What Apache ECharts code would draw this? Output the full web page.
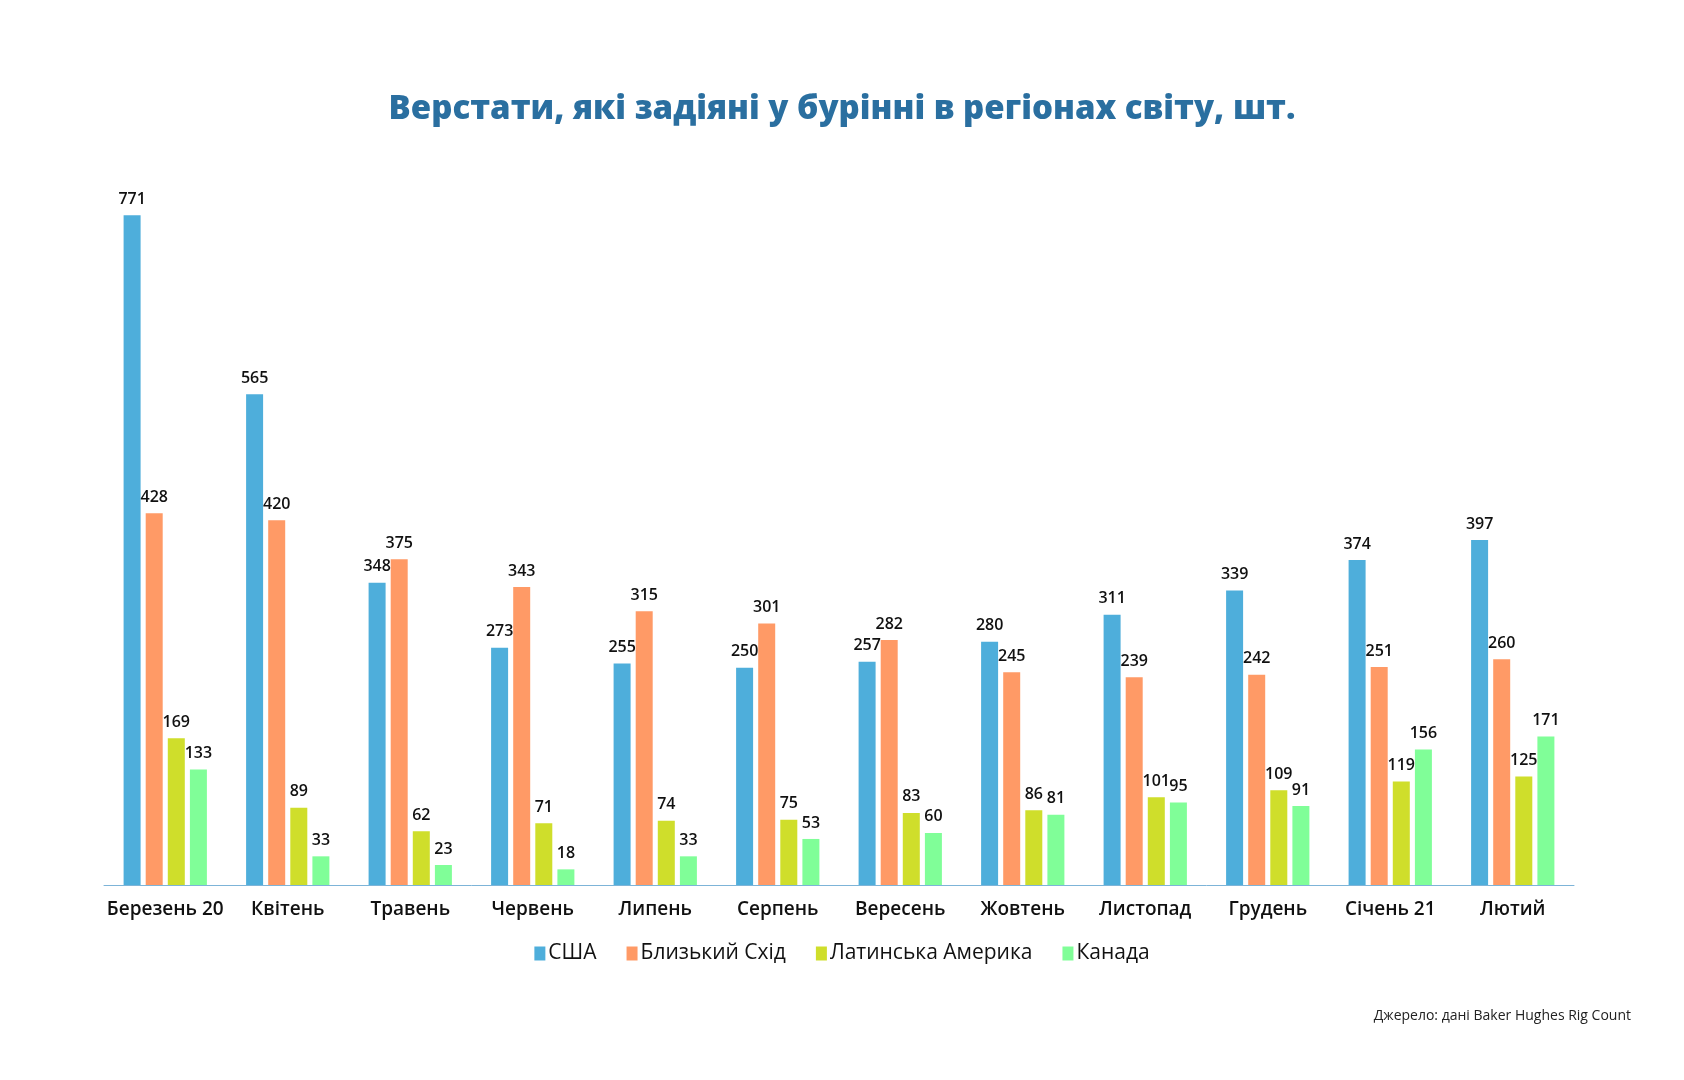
<!DOCTYPE html>
<html>
<head>
<meta charset="utf-8">
<script src="https://cdn.jsdelivr.net/npm/echarts@6/dist/echarts.min.js"></script>
<style>
  html, body { margin: 0; padding: 0; background: #fff; }
  #chart { width: 1684px; height: 1080px; }
</style>
</head>
<body>
<div id="chart"></div>
<script>
// місяці
const months = ['Березень 20', 'Квітень', 'Травень', 'Червень', 'Липень', 'Серпень',
  'Вересень', 'Жовтень', 'Листопад', 'Грудень', 'Січень 21', 'Лютий']

const seriesNames = ['США', 'Близький Схід', 'Латинська Америка', 'Канада']
const usa = [771, 565, 348, 273, 255, 250, 257, 280, 311, 339, 374, 397]
const middleEast = [428, 420, 375, 343, 315, 301, 282, 245, 239, 242, 251, 260]
const latinAmerica = [169, 89, 62, 71, 74, 75, 83, 86, 101, 109, 119, 125]
const canada = [133, 33, 23, 18, 33, 53, 60, 81, 95, 91, 156, 171]

const colors = ['#4eaedb', '#ff9a66', '#cfde2b', '#80fe98']

const makeSeries = (name, data, color) => ({
  name,
  type: 'bar',
  data,
  barWidth: 17,
  barGap: '30%',
  itemStyle: { color },
  label: {
    show: true,
    position: 'top',
    distance: 8,
    color: '#111',
    fontSize: 16,
    fontWeight: 600,
    fontFamily: 'Open Sans'
  }
})

const chart = echarts.init(document.getElementById('chart'))
chart.setOption({
  animation: false,
  title: [{
    text: 'Верстати, які задіяні у бурінні в регіонах світу, шт.',
    left: 'center',
    top: 88,
    textStyle: { color: '#2a6fa0', fontSize: 33, fontWeight: 800, fontFamily: 'Open Sans' }
  }, {
    text: 'Джерело: дані Baker Hughes Rig Count',
    right: 48,
    top: 1004,
    textStyle: { color: '#222', fontSize: 14, fontWeight: 'normal', fontFamily: 'Open Sans' }
  }],
  legend: {
    data: seriesNames,
    left: 'center',
    top: 938,
    itemWidth: 11,
    itemHeight: 14,
    itemGap: 30,
    icon: 'rect',
    textStyle: { color: '#111', fontSize: 21, fontWeight: 500, fontFamily: 'Open Sans', padding: [0, 0, 0, -2] }
  },
  grid: { left: 104, right: 110, top: 190, bottom: 195 },
  xAxis: {
    type: 'category',
    data: months,
    axisLine: { lineStyle: { color: '#7db4d8', width: 1 } },
    axisTick: { show: false },
    axisLabel: { interval: 0, color: '#111', fontSize: 19, fontWeight: 600, fontFamily: 'Open Sans', margin: 15 }
  },
  yAxis: {
    type: 'value',
    min: 0,
    max: 800,
    show: false,
    splitLine: { show: false }
  },
  series: [
    makeSeries(seriesNames[0], usa, colors[0]),
    makeSeries(seriesNames[1], middleEast, colors[1]),
    makeSeries(seriesNames[2], latinAmerica, colors[2]),
    makeSeries(seriesNames[3], canada, colors[3])
  ]
})
</script>
</body>
</html>
